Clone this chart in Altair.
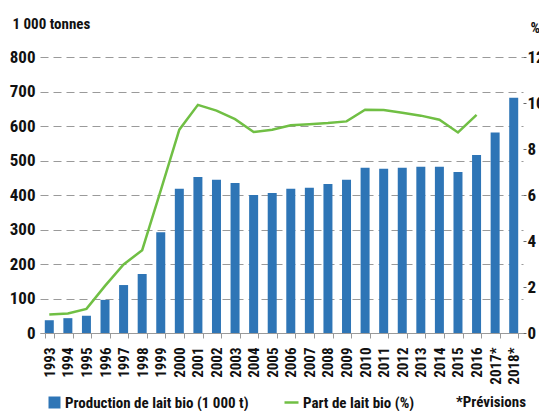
import altair as alt
import pandas as pd

years = ["1993", "1994", "1995", "1996", "1997", "1998", "1999", "2000", "2001", "2002",
         "2003", "2004", "2005", "2006", "2007", "2008", "2009", "2010", "2011", "2012",
         "2013", "2014", "2015", "2016", "2017*", "2018*"]
production = [37, 43, 50, 96, 139, 171, 292, 418, 452, 444, 435, 400, 406, 418, 421, 432,
              444, 479, 476, 479, 482, 482, 467, 516, 581, 682]
part = [0.8, 0.85, 1.05, 2.05, 2.98, 3.6, 6.2, 8.84, 9.92, 9.67, 9.3, 8.74, 8.84, 9.03,
        9.08, 9.13, 9.2, 9.71, 9.7, 9.58, 9.45, 9.27, 8.72, 9.48, None, None]

bar_label = "Production de lait bio (1 000 t)"
line_label = "Part de lait bio (%)"
note_text = ["*Prévisions"]

BLUE = "#2E75B6"
GREEN = "#70BF44"
FONT = "Roboto Condensed, Liberation Sans Narrow, Arial Narrow, Roboto, sans-serif"
GRID = "#9a9a9a"

df = pd.DataFrame({"annee": years, "prod": production, "part": part})
df["s1"] = bar_label
df["s2"] = line_label

xenc = alt.X("annee:N", sort=None, title=None,
             scale=alt.Scale(paddingInner=0.5, paddingOuter=0.25),
             axis=alt.Axis(labelAngle=-90, labelFont=FONT, labelFontSize=15,
                           labelFontWeight="bold", labelColor="#111",
                           domainColor=GRID, tickColor=GRID, tickSize=5,
                           tickBand="extent", labelPadding=9, labelBaseline="middle"))

bars = alt.Chart(df).mark_bar(size=9).encode(
    x=xenc,
    y=alt.Y("prod:Q", scale=alt.Scale(domain=[0, 800]),
            axis=alt.Axis(values=list(range(0, 801, 100)), title="1 000 tonnes",
                          titleAngle=0, titleX=-28, titleY=-29, titleAlign="left",
                          titleBaseline="alphabetic", titleFont=FONT, titleFontSize=15,
                          titleFontWeight="bold", titleColor="#111",
                          labelFont=FONT, labelFontSize=17, labelFontWeight="bold",
                          labelColor="#111", labelPadding=5, ticks=False, domain=False,
                          grid=True, gridColor=GRID, gridDash=[8, 5], gridWidth=1.2)),
    color=alt.Color("s1:N", scale=alt.Scale(domain=[bar_label], range=[BLUE]),
                    legend=alt.Legend(orient="none", legendX=7, legendY=338, title=None,
                                      symbolType="square", symbolSize=144,
                                      symbolStrokeWidth=0, labelFont=FONT,
                                      labelFontSize=15, labelFontWeight="bold",
                                      labelColor="#111", labelOffset=3, labelLimit=400,
                                      padding=0)),
)

line = alt.Chart(df).mark_line(strokeWidth=2.5).encode(
    x=alt.X("annee:N", sort=None),
    y=alt.Y("part:Q", scale=alt.Scale(domain=[0, 12]),
            axis=alt.Axis(orient="right", values=list(range(0, 13, 2)), title="%",
                          titleAngle=0, titleX=7, titleY=-25, titleAlign="left",
                          titleBaseline="alphabetic", titleFont=FONT, titleFontSize=15,
                          titleFontWeight="bold", titleColor="#111",
                          labelFont=FONT, labelFontSize=17, labelFontWeight="bold",
                          labelColor="#111", labelPadding=1, tickSize=3,
                          tickColor="#666", domain=False, grid=False)),
    stroke=alt.Stroke("s2:N", scale=alt.Scale(domain=[line_label], range=[GREEN]),
                      legend=alt.Legend(orient="none", legendX=243, legendY=337, title=None,
                                        symbolType="stroke", symbolSize=196,
                                        symbolStrokeWidth=2.5, labelFont=FONT,
                                        labelFontSize=15, labelFontWeight="bold",
                                        labelColor="#111", labelOffset=3, labelLimit=400,
                                        padding=0)),
)

note = alt.Chart(pd.DataFrame({"note": note_text})).mark_text(
    font=FONT, fontSize=15, fontWeight="bold", color="#111", align="left",
    baseline="middle").encode(
    x=alt.value(416), y=alt.value(345), text="note:N")

chart = alt.layer(bars, line, note).resolve_scale(
    y="independent", color="independent").properties(
    width=483, height=276,
    autosize=alt.AutoSizeParams(type="none"),
    padding={"left": 32, "top": 49, "right": 16, "bottom": 78},
).configure_view(stroke=None)

chart.save("out.html", embed_options={"renderer": "svg", "actions": False})
